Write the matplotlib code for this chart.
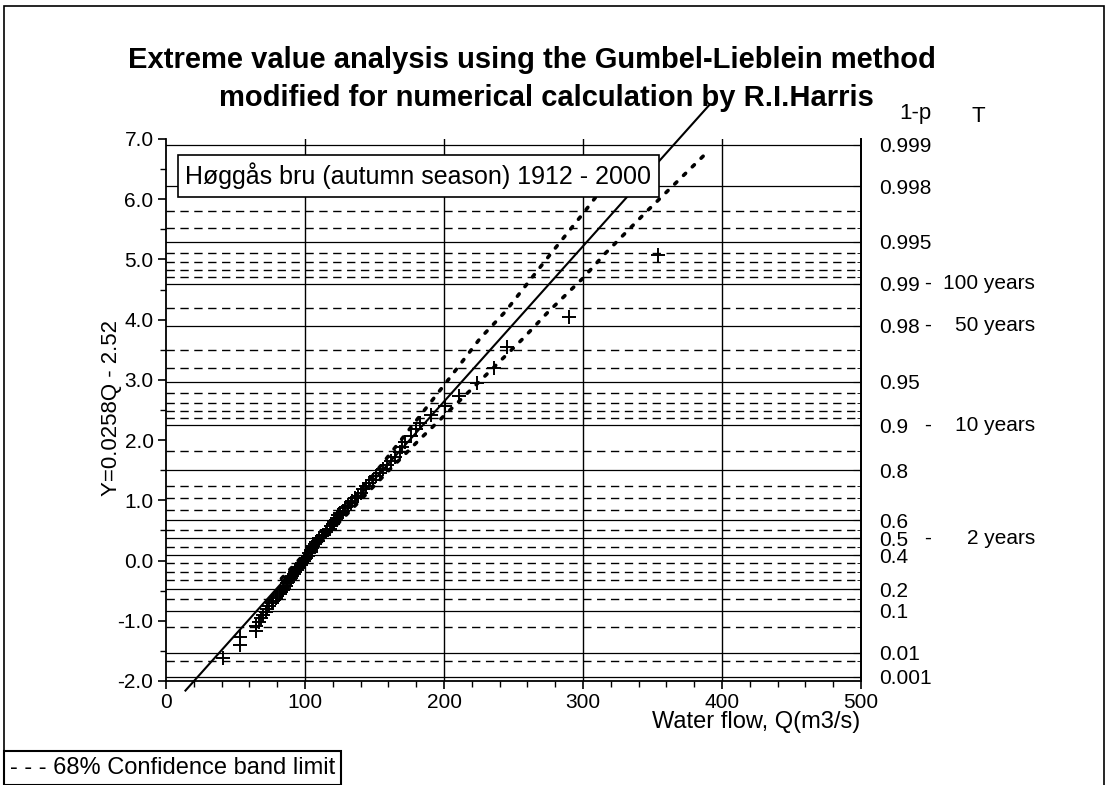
import numpy as np
import matplotlib.pyplot as plt
from matplotlib.patches import Rectangle
from matplotlib.ticker import MultipleLocator, FuncFormatter

plt.rcParams['font.family'] = ['Liberation Sans', 'DejaVu Sans']
plt.rcParams['axes.unicode_minus'] = False

# autumn flood maxima 1912-2000: flow Q (m3/s) and reduced variate Y
flow = [41, 53, 53, 65, 65, 67, 68, 70, 72, 73,
        74, 76, 77, 79, 80, 82, 83, 84, 85, 86,
        87, 88, 89, 90, 91, 92, 93, 94, 95, 96,
        97, 98, 99, 100, 101, 102, 103, 104, 104, 105,
        106, 107, 108, 109, 110, 112, 113, 115, 116, 118,
        119, 120, 121, 122, 123, 124, 125, 127, 129, 131,
        133, 134, 136, 138, 140, 142, 144, 146, 149, 151,
        154, 156, 159, 162, 165, 168, 170, 172, 176, 180,
        183, 191, 201, 211, 224, 236, 245, 290, 354]
y_plot = [-1.62, -1.40, -1.27, -1.17, -1.09, -1.02, -0.96, -0.90, -0.85, -0.80,
          -0.76, -0.71, -0.67, -0.63, -0.59, -0.56, -0.52, -0.49, -0.45, -0.42,
          -0.38, -0.35, -0.32, -0.29, -0.25, -0.22, -0.19, -0.16, -0.13, -0.10,
          -0.07, -0.04, -0.01, 0.02, 0.05, 0.08, 0.12, 0.15, 0.18, 0.21,
          0.24, 0.27, 0.30, 0.33, 0.37, 0.40, 0.43, 0.47, 0.50, 0.53,
          0.57, 0.60, 0.64, 0.68, 0.71, 0.75, 0.79, 0.83, 0.87, 0.91,
          0.95, 0.99, 1.04, 1.08, 1.13, 1.18, 1.23, 1.28, 1.34, 1.40,
          1.45, 1.52, 1.58, 1.65, 1.72, 1.80, 1.88, 1.97, 2.07, 2.18,
          2.29, 2.42, 2.57, 2.74, 2.95, 3.20, 3.54, 4.04, 5.07]

# fitted line from the axis label: Y = 0.0258Q - 2.52
slope = 0.0258
intercept = -2.52
fit_q = [14, 391]

# 68% confidence band limits
band_y = [-0.3, 0.5, 1.5, 2.0, 2.94, 3.69, 4.13, 4.69, 5.10, 5.79, 6.75]
band_upper_q = [83, 115.5, 152, 169, 201, 226, 244, 263, 277, 301, 333]
band_lower_q = [88, 119, 160.5, 182, 224, 257, 275, 300, 316, 345.5, 388]

# non-exceedance probabilities (1-p) for the right hand scale
prob_major = [0.999, 0.998, 0.995, 0.99, 0.98, 0.95, 0.9, 0.8, 0.6, 0.5, 0.4, 0.2, 0.1, 0.01, 0.001]
prob_minor = [0.997, 0.996, 0.994, 0.993, 0.992, 0.991, 0.985, 0.97, 0.96, 0.94, 0.93, 0.92,
              0.91, 0.85, 0.75, 0.7, 0.65, 0.55, 0.45, 0.35, 0.3, 0.25, 0.15, 0.05, 0.005]
return_prob = [0.99, 0.98, 0.9, 0.5]
return_text = ['100 years', '50 years', '10 years', '2 years']


def gumbel(p):
    return -np.log(-np.log(np.asarray(p)))


W, H = 1108, 785
fig = plt.figure(figsize=(W / 100, H / 100), dpi=100)
ax = fig.add_axes([166 / W, 1 - 681 / H, 695 / W, 542 / H])
ax.set_xlim(0, 500)
ax.set_ylim(-2, 7)

for y in gumbel(prob_major):
    ax.axhline(y, color='black', lw=0.9, zorder=1)
for y in gumbel(prob_minor):
    ax.axhline(y, color='black', lw=1.0, ls=(0, (6, 4)), zorder=1)
for x in [100, 200, 300, 400]:
    ax.axvline(x, color='black', lw=1.0, zorder=1)

ax.plot(flow, y_plot, '+', color='black', ms=10, mew=1.4, zorder=3)
fit_y = [slope * q + intercept for q in fit_q]
ax.plot(fit_q, fit_y, color='black', lw=1.5, zorder=4, clip_on=False)
ax.plot(band_upper_q, band_y, color='black', lw=2.6, ls=(0, (0.8, 2.6)),
        dash_capstyle='round', zorder=4)
ax.plot(band_lower_q, band_y, color='black', lw=2.6, ls=(0, (0.8, 2.6)),
        dash_capstyle='round', zorder=4)

ax.spines['top'].set_visible(False)
for s in ['left', 'bottom', 'right']:
    ax.spines[s].set_linewidth(1.3)
ax.xaxis.set_major_locator(MultipleLocator(100))
ax.xaxis.set_minor_locator(MultipleLocator(20))
ax.yaxis.set_major_locator(MultipleLocator(1))
ax.yaxis.set_minor_locator(MultipleLocator(0.5))
ax.yaxis.set_major_formatter(FuncFormatter(lambda v, pos: f'{v:.1f}'))
ax.tick_params(which='major', direction='out', length=6, width=1.2, labelsize=15, pad=3)
ax.tick_params(which='minor', direction='out', length=4, width=1.0)

ax2 = ax.twinx()
ax2.set_ylim(-2, 7)
ax2.set_yticks(gumbel(prob_major), [f'{p:g}' for p in prob_major])
ax2.set_yticks(gumbel(prob_minor), minor=True)
ax2.tick_params(which='major', direction='in', length=6, labelsize=15, pad=13)
ax2.tick_params(which='minor', direction='in', length=3)
for s in ['top', 'left', 'bottom']:
    ax2.spines[s].set_visible(False)
ax2.spines['right'].set_linewidth(1.3)

for p, txt in zip(return_prob, return_text):
    yf = ax.transData.transform((0, float(gumbel(p))))[1] / H
    fig.text(928 / W, yf, '-', fontsize=15, ha='center', va='center')
    fig.text(1035 / W, yf, txt, fontsize=15, ha='right', va='center')

fig.text(532 / W, 1 - 60 / H, 'Extreme value analysis using the Gumbel-Lieblein method',
         fontsize=21, weight='bold', ha='center', va='center')
fig.text(546 / W, 1 - 98 / H, 'modified for numerical calculation by R.I.Harris',
         fontsize=21, weight='bold', ha='center', va='center')
fig.text(915 / W, 1 - 114 / H, '1-p', fontsize=16, ha='center', va='center')
fig.text(978 / W, 1 - 116 / H, 'T', fontsize=16, ha='center', va='center')

fig.text(111 / W, 1 - 408 / H, 'Y=0.0258Q - 2.52', fontsize=16, rotation=90,
         ha='center', va='center')
fig.text(860 / W, 1 - 722 / H, 'Water flow, Q(m3/s)', fontsize=17, ha='right', va='center')

fig.text(185 / W, 1 - 176 / H, 'Høggås bru (autumn season) 1912 - 2000', fontsize=18,
         ha='left', va='center', zorder=10,
         bbox=dict(boxstyle='square,pad=0.3', fc='white', ec='black', lw=1.2))
fig.text(10 / W, 1 - 768 / H, '- - - 68% Confidence band limit', fontsize=17,
         ha='left', va='center',
         bbox=dict(boxstyle='square,pad=0.25', fc='white', ec='black', lw=1.5))

fig.patches.append(Rectangle((4 / W, -0.05), 1100 / W, 1 - 6 / H + 0.05, transform=fig.transFigure,
                             fill=False, ec='black', lw=1.2))

fig.savefig('out.png', dpi=100)
